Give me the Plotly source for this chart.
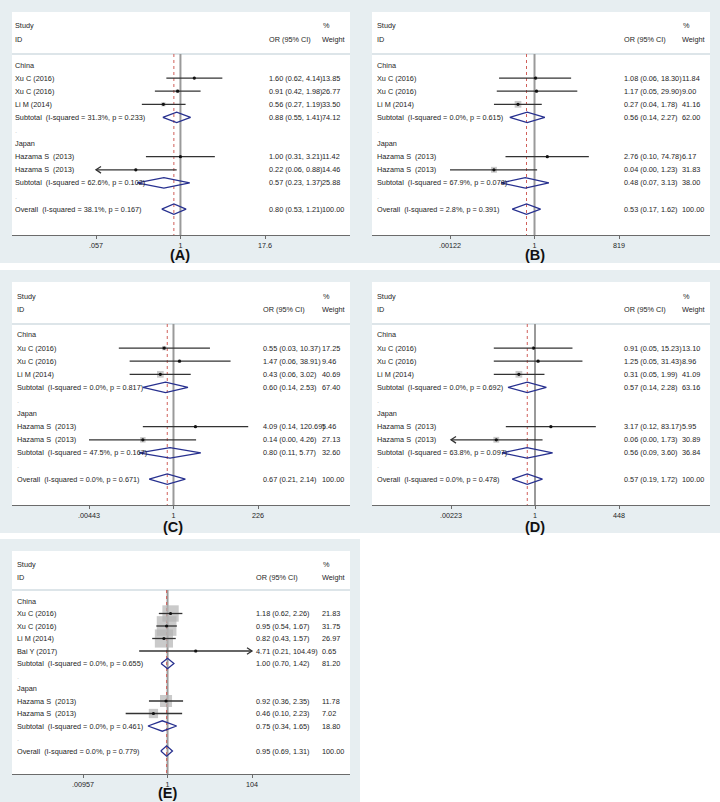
import math
import plotly.graph_objects as go

# study names
china_ids = ["Xu C (2016)", "Xu C (2016)", "Li M (2014)"]
china_ids_e = ["Xu C (2016)", "Xu C (2016)", "Li M (2014)", "Bai Y (2017)"]
japan_ids = ["Hazama S\u00a0 (2013)", "Hazama S\u00a0 (2013)"]

# (A)
a_or = [1.60, 0.91, 0.56, 1.00, 0.22]
a_lo = [0.62, 0.42, 0.27, 0.31, 0.056]
a_hi = [4.14, 1.98, 1.19, 3.21, 0.88]
a_wt = [13.85, 26.77, 33.50, 11.42, 14.46]
a_sub = [[0.88, 0.55, 1.41, 74.12], [0.57, 0.23, 1.37, 25.88]]
a_all = [0.80, 0.53, 1.21, 100.00]
a_het = ["31.3%, p = 0.233", "62.6%, p = 0.102", "38.1%, p = 0.167"]
a_ticks = [0.057, 1, 17.6]
a_ticktext = [".057", "1", "17.6"]

# (B)
b_or = [1.08, 1.17, 0.27, 2.76, 0.04]
b_lo = [0.06, 0.05, 0.04, 0.10, 0.00122]
b_hi = [18.30, 29.90, 1.78, 74.78, 1.23]
b_wt = [11.84, 9.00, 41.16, 6.17, 31.83]
b_sub = [[0.56, 0.14, 2.27, 62.00], [0.48, 0.07, 3.13, 38.00]]
b_all = [0.53, 0.17, 1.62, 100.00]
b_het = ["0.0%, p = 0.615", "67.9%, p = 0.078", "2.8%, p = 0.391"]
b_ticks = [0.00122, 1, 819]
b_ticktext = [".00122", "1", "819"]

# (C)
c_or = [0.55, 1.47, 0.43, 4.09, 0.14]
c_lo = [0.03, 0.06, 0.06, 0.14, 0.00443]
c_hi = [10.37, 38.91, 3.02, 120.69, 4.26]
c_wt = [17.25, 9.46, 40.69, 5.46, 27.13]
c_sub = [[0.60, 0.14, 2.53, 67.40], [0.80, 0.11, 5.77, 32.60]]
c_all = [0.67, 0.21, 2.14, 100.00]
c_het = ["0.0%, p = 0.817", "47.5%, p = 0.167", "0.0%, p = 0.671"]
c_ticks = [0.00443, 1, 226]
c_ticktext = [".00443", "1", "226"]

# (D)
d_or = [0.91, 1.25, 0.31, 3.17, 0.06]
d_lo = [0.05, 0.05, 0.05, 0.12, 0.002]
d_hi = [15.23, 31.43, 1.99, 83.17, 1.73]
d_wt = [13.10, 8.96, 41.09, 5.95, 30.89]
d_sub = [[0.57, 0.14, 2.28, 63.16], [0.56, 0.09, 3.60, 36.84]]
d_all = [0.57, 0.19, 1.72, 100.00]
d_het = ["0.0%, p = 0.692", "63.8%, p = 0.097", "0.0%, p = 0.478"]
d_ticks = [0.00223, 1, 448]
d_ticktext = [".00223", "1", "448"]

# (E)
e_or = [1.18, 0.95, 0.82, 4.71, 0.92, 0.46]
e_lo = [0.62, 0.54, 0.43, 0.21, 0.36, 0.10]
e_hi = [2.26, 1.67, 1.57, 104.49, 2.35, 2.23]
e_wt = [21.83, 31.75, 26.97, 0.65, 11.78, 7.02]
e_sub = [[1.00, 0.70, 1.42, 81.20], [0.75, 0.34, 1.65, 18.80]]
e_all = [0.95, 0.69, 1.31, 100.00]
e_het = ["0.0%, p = 0.655", "0.0%, p = 0.461", "0.0%, p = 0.779"]
e_ticks = [0.00957, 1, 104]
e_ticktext = [".00957", "1", "104"]

panels = [
    dict(tag="(A)", cn=china_ids, jp=japan_ids, orr=a_or, lo=a_lo, hi=a_hi, wt=a_wt,
         sub=a_sub, all=a_all, het=a_het, ticks=a_ticks, ticktext=a_ticktext),
    dict(tag="(B)", cn=china_ids, jp=japan_ids, orr=b_or, lo=b_lo, hi=b_hi, wt=b_wt,
         sub=b_sub, all=b_all, het=b_het, ticks=b_ticks, ticktext=b_ticktext),
    dict(tag="(C)", cn=china_ids, jp=japan_ids, orr=c_or, lo=c_lo, hi=c_hi, wt=c_wt,
         sub=c_sub, all=c_all, het=c_het, ticks=c_ticks, ticktext=c_ticktext),
    dict(tag="(D)", cn=china_ids, jp=japan_ids, orr=d_or, lo=d_lo, hi=d_hi, wt=d_wt,
         sub=d_sub, all=d_all, het=d_het, ticks=d_ticks, ticktext=d_ticktext),
    dict(tag="(E)", cn=china_ids_e, jp=japan_ids, orr=e_or, lo=e_lo, hi=e_hi, wt=e_wt,
         sub=e_sub, all=e_all, het=e_het, ticks=e_ticks, ticktext=e_ticktext),
]

# pixel geometry of each panel (page is 720 x 802)
geoms = [
    dict(grey=(0, 0, 360, 263), box=(12, 12, 350, 235), sep=54, row0=65, step=13.1,
         tick_px=(96, 265), txt=(13, 267, 320), head=(26, 39), tag_y=255, box_k=0.72),
    dict(grey=(360, 0, 720, 263), box=(372, 12, 710, 235), sep=54, row0=65, step=13.1,
         tick_px=(450, 619), txt=(375, 622, 680), head=(26, 39), tag_y=255, box_k=1.05),
    dict(grey=(0, 270, 360, 533), box=(12, 282, 350, 505), sep=324, row0=335, step=13.1,
         tick_px=(89, 258), txt=(15, 261, 320), head=(296, 309), tag_y=527, box_k=1.05),
    dict(grey=(360, 270, 720, 533), box=(372, 282, 710, 505), sep=324, row0=335, step=13.1,
         tick_px=(451, 619), txt=(375, 622, 680), head=(296, 309), tag_y=527, box_k=1.05),
    dict(grey=(0, 539, 360, 802), box=(12, 551, 350, 774), sep=590, row0=601, step=12.5,
         tick_px=(83, 252), txt=(15, 254, 320), head=(564, 577), tag_y=793, box_k=3.5),
]

W, H = 720, 802
FONT = "Liberation Sans, Arial, sans-serif"
TXT = "#1e1e1e"
GREY_BG = "#e7eef1"


def px(x):
    return x / W


def py(y):
    return 1 - y / H


fig = go.Figure()
shapes = []
annots = []
layout_axes = {}

for k, (p, g) in enumerate(zip(panels, geoms)):
    sfx = "" if k == 0 else str(k + 1)
    xa, ya = "x" + sfx, "y" + sfx
    nc, nj = len(p["cn"]), len(p["jp"])

    # row indices
    study_rows = list(range(1, nc + 1)) + list(range(nc + 4, nc + 4 + nj))
    sub_rows = [nc + 1, nc + 4 + nj]
    blank_rows = [nc + 2, nc + 5 + nj]
    ov_row = nc + 6 + nj

    # axes
    t_lo, t_hi = p["ticks"][0], p["ticks"][-1]
    ppd = (g["tick_px"][1] - g["tick_px"][0]) / (math.log10(t_hi) - math.log10(t_lo))
    r0 = math.log10(t_lo) - (g["tick_px"][0] - g["box"][0]) / ppd
    r1 = math.log10(t_hi) + (g["box"][2] - g["tick_px"][1]) / ppd
    step = g["step"]
    row_axis = (g["box"][3] - g["row0"]) / step
    row_sep = (g["sep"] - g["row0"]) / step

    layout_axes["xaxis" + sfx] = dict(
        type="log", domain=[px(g["box"][0]), px(g["box"][2])], range=[r0, r1],
        anchor=ya, tickvals=p["ticks"], ticktext=p["ticktext"],
        showline=True, linecolor="#6b6b6b", linewidth=1, ticks="outside",
        ticklen=3, tickcolor="#6b6b6b", tickfont=dict(size=7.2, color=TXT, family=FONT),
        showgrid=False, zeroline=False, fixedrange=True)
    layout_axes["yaxis" + sfx] = dict(
        domain=[py(g["box"][3]), py(g["sep"])], range=[row_axis, row_sep],
        anchor=xa, visible=False, fixedrange=True)

    # backgrounds
    gx0, gy0, gx1, gy1 = g["grey"]
    shapes.append(dict(type="rect", xref="paper", yref="paper", layer="below",
                       x0=px(gx0), x1=px(gx1), y0=py(gy1), y1=py(gy0),
                       fillcolor=GREY_BG, line=dict(width=0)))
    bx0, by0, bx1, by1 = g["box"]
    shapes.append(dict(type="rect", xref="paper", yref="paper", layer="below",
                       x0=px(bx0), x1=px(bx1), y0=py(by1), y1=py(by0),
                       fillcolor="white", line=dict(width=0)))
    shapes.append(dict(type="line", xref="paper", yref="paper", layer="below",
                       x0=px(bx0), x1=px(bx1), y0=py(g["sep"]), y1=py(g["sep"]),
                       line=dict(color="#dde5e9", width=2)))

    # null line and overall line
    fig.add_trace(go.Scatter(x=[1, 1], y=[row_sep, row_axis], mode="lines",
                             line=dict(color="#9a9a9a", width=2),
                             xaxis=xa, yaxis=ya, hoverinfo="skip", showlegend=False))
    fig.add_trace(go.Scatter(x=[p["all"][0]] * 2, y=[row_sep, row_axis], mode="lines",
                             line=dict(color="#d0605a", width=1, dash="dot"),
                             xaxis=xa, yaxis=ya, hoverinfo="skip", showlegend=False))

    # weight boxes
    fig.add_trace(go.Scatter(
        x=p["orr"], y=study_rows, mode="markers",
        marker=dict(symbol="square", color="#b3b3b3",
                    size=[g["box_k"] * math.sqrt(w) for w in p["wt"]], line=dict(width=0)),
        xaxis=xa, yaxis=ya, hoverinfo="skip", showlegend=False))

    # CI lines with arrows where they leave the scale
    cx, cy, ax_, ay_ = [], [], [], []
    arm = 10 ** (5 / ppd)
    dy = 3.3 / step
    for o, l, h, r in zip(p["orr"], p["lo"], p["hi"], study_rows):
        lc, hc = max(l, t_lo), min(h, t_hi)
        cx += [lc, hc, None]
        cy += [r, r, None]
        if l < t_lo:
            ax_ += [t_lo * arm, t_lo, t_lo * arm, None]
            ay_ += [r - dy, r, r + dy, None]
        if h > t_hi:
            ax_ += [t_hi / arm, t_hi, t_hi / arm, None]
            ay_ += [r - dy, r, r + dy, None]
    fig.add_trace(go.Scatter(x=cx, y=cy, mode="lines", line=dict(color="#333333", width=1.3),
                             xaxis=xa, yaxis=ya, hoverinfo="skip", showlegend=False))
    if ax_:
        fig.add_trace(go.Scatter(x=ax_, y=ay_, mode="lines",
                                 line=dict(color="#333333", width=1.3),
                                 xaxis=xa, yaxis=ya, hoverinfo="skip", showlegend=False))
    fig.add_trace(go.Scatter(x=p["orr"], y=study_rows, mode="markers",
                             marker=dict(symbol="circle", color="#111111", size=3.2),
                             xaxis=xa, yaxis=ya, hoverinfo="skip", showlegend=False))

    # diamonds
    dx, dyy = [], []
    hh = 5.2 / step
    for (est, l, h, _), r in zip(p["sub"] + [p["all"]], sub_rows + [ov_row]):
        dx += [l, est, h, est, l, None]
        dyy += [r, r - hh, r, r + hh, r, None]
    fig.add_trace(go.Scatter(x=dx, y=dyy, mode="lines",
                             line=dict(color="#27308f", width=1.3),
                             xaxis=xa, yaxis=ya, hoverinfo="skip", showlegend=False))

    # text columns
    lx, cix, wx = g["txt"]

    def note(x, y, text, color=TXT, yref=None):
        annots.append(dict(x=px(x), xref="paper", y=y, yref=yref or ya, text=text,
                           showarrow=False, xanchor="left", yanchor="middle",
                           font=dict(family=FONT, size=7.3, color=color)))

    for y, t in zip(g["head"], ["Study", "ID"]):
        note(lx, py(y), t, yref="paper")
    note(wx + 1, py(g["head"][0]), "%", yref="paper")
    note(cix, py(g["head"][1]), "OR (95% CI)", yref="paper")
    note(wx, py(g["head"][1]), "Weight", yref="paper")

    note(lx, 0, "China")
    note(lx, nc + 3, "Japan")
    for name, r in zip(p["cn"] + p["jp"], study_rows):
        note(lx, r, name)
    for o, l, h, w, r in zip(p["orr"], p["lo"], p["hi"], p["wt"], study_rows):
        note(cix, r, f"{o:.2f} ({l:.2f}, {h:.2f})")
        note(wx, r, f"{w:.2f}")
    for (est, l, h, w), r, het in zip(p["sub"], sub_rows, p["het"][:2]):
        note(lx, r, f"Subtotal\u00a0 (I-squared = {het})")
        note(cix, r, f"{est:.2f} ({l:.2f}, {h:.2f})")
        note(wx, r, f"{w:.2f}")
    for r in blank_rows:
        note(lx, r, ".", color="#c8c8c8")
    est, l, h, w = p["all"]
    note(lx, ov_row, f"Overall\u00a0 (I-squared = {p['het'][2]})")
    note(cix, ov_row, f"{est:.2f} ({l:.2f}, {h:.2f})")
    note(wx, ov_row, f"{w:.2f}")

    # panel tag under the "1" tick
    annots.append(dict(x=0, xref=xa, y=py(g["tag_y"]), yref="paper", text="<b>" + p["tag"] + "</b>",
                       showarrow=False, xanchor="center", yanchor="middle",
                       font=dict(family=FONT, size=14.5, color="#111111")))

fig.update_layout(
    width=W, height=H, margin=dict(l=0, r=0, t=0, b=0),
    paper_bgcolor="white", plot_bgcolor="rgba(0,0,0,0)",
    shapes=shapes, annotations=annots, showlegend=False,
    **layout_axes)

# the page body has a default 8px margin; remove it so the figure sits at 0,0
fig.write_html("out.html", config={"displayModeBar": False},
               post_script="document.body.style.margin='0';")
